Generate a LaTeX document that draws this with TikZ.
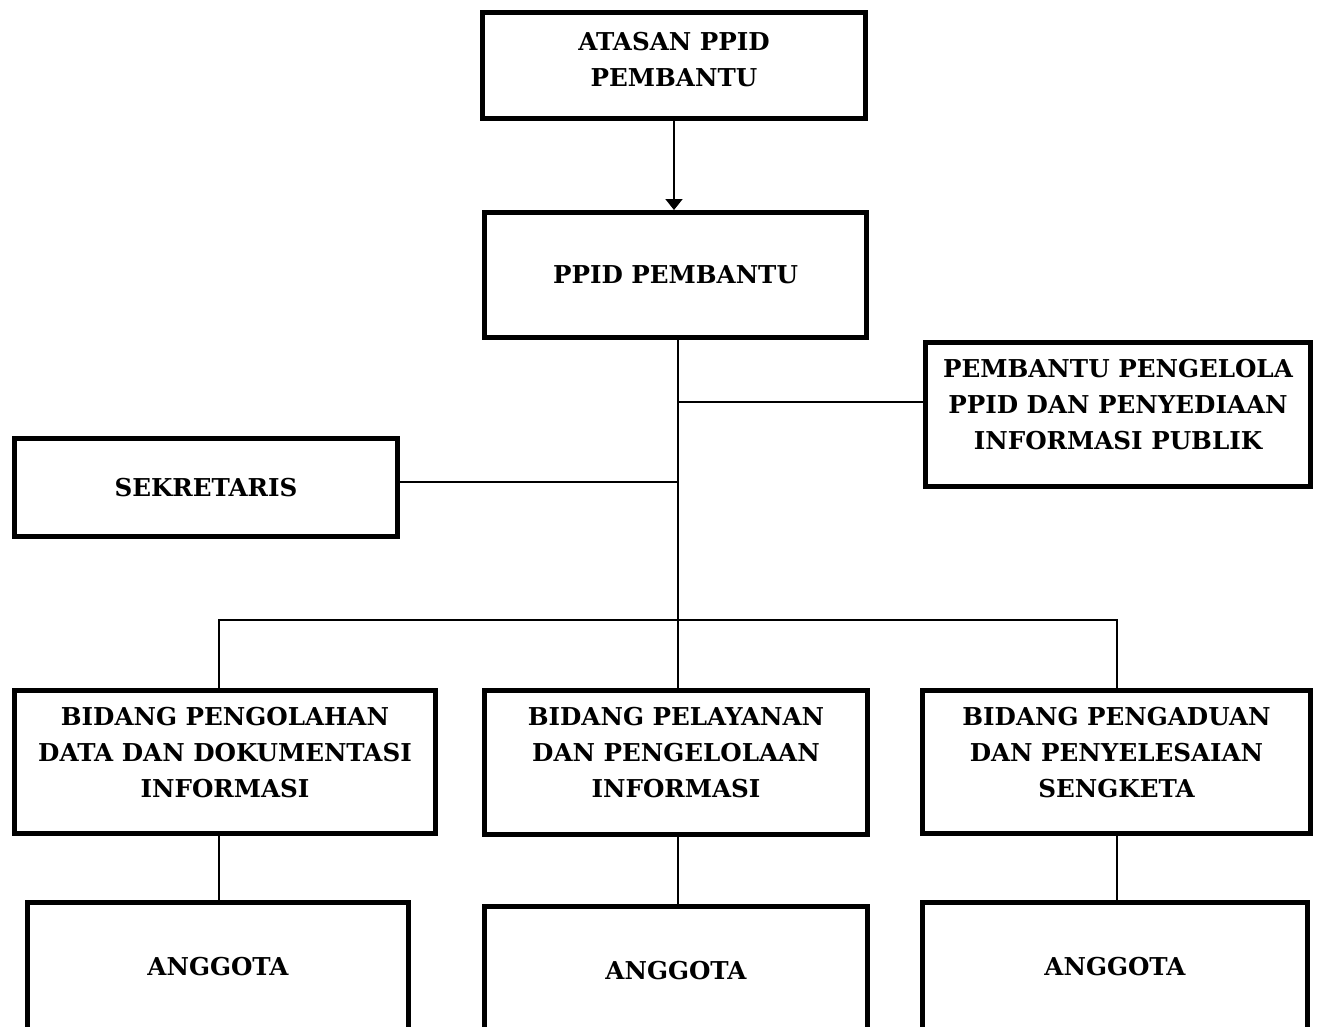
\documentclass[tikz,border=0pt]{standalone}
\usepackage{fontspec}
\setmainfont{DejaVu Serif}
\usetikzlibrary{arrows.meta}

\begin{document}
\begin{tikzpicture}[x=0.02cm, y=-0.02cm,
    box/.style={rectangle, draw=black, line width=0.1cm, align=center,
        inner sep=0pt, font=\fontsize{14}{20.5}\selectfont\bfseries},
    link/.style={draw=black, line width=0.035cm}]

\useasboundingbox (0,0) rectangle (1318,1027);
\clip (0,0) rectangle (1318,1027);

% Atasan
\node[box, minimum width=7.66cm, minimum height=2.12cm, text depth=7pt]
    (atasan) at (674,65.5) {ATASAN PPID\\PEMBANTU};

% PPID
\node[box, minimum width=7.64cm, minimum height=2.5cm]
    (ppid) at (675.5,275) {PPID PEMBANTU};

% Side boxes
\node[box, minimum width=7.7cm, minimum height=2.88cm, text depth=11pt]
    (pengelola) at (1118,414.5) {PEMBANTU PENGELOLA\\PPID DAN PENYEDIAAN\\INFORMASI PUBLIK};
\node[box, minimum width=7.66cm, minimum height=1.96cm]
    (sekretaris) at (206,487.5) {SEKRETARIS};

% Bidang
\node[box, minimum width=8.42cm, minimum height=2.86cm, text depth=11pt]
    (bidang-1) at (225,762) {BIDANG PENGOLAHAN\\DATA DAN DOKUMENTASI\\INFORMASI};
\node[box, minimum width=7.66cm, minimum height=2.88cm, text depth=11pt]
    (bidang-2) at (676,762.5) {BIDANG PELAYANAN\\DAN PENGELOLAAN\\INFORMASI};
\node[box, minimum width=7.76cm, minimum height=2.86cm, text depth=11pt]
    (bidang-3) at (1116.5,762) {BIDANG PENGADUAN\\DAN PENYELESAIAN\\SENGKETA};

% Anggota
\foreach \i/\x/\y/\w in {1/218/967/7.62, 2/676/971/7.66, 3/1115/967/7.7}
{
    \node[box, minimum width=\w cm, minimum height=2.6cm]
        (anggota-\i) at (\x,\y) {ANGGOTA};
}

% Junctions
\coordinate (bus) at (678,620);
\coordinate (bus-1) at (219,620);
\coordinate (bus-3) at (1117,620);
\coordinate (tap-r) at (678,402);
\coordinate (tap-l) at (678,482);

% Atasan - PPID
\draw[link, -{Triangle[length=0.22cm, width=0.34cm]}]
    (atasan.south) -- (atasan.south |- ppid.north);

% PPID - bidang
\draw[link] (bus |- ppid.south) -- (bus);
\draw[link] (tap-r) -- (tap-r -| pengelola.west);
\draw[link] (tap-l) -- (tap-l -| sekretaris.east);
\draw[link] (bus-1 |- bidang-1.north) -- (bus-1) -- (bus-3) -- (bus-3 |- bidang-3.north);
\draw[link] (bus) -- (bus |- bidang-2.north);

% Bidang - anggota
\foreach \i/\c in {1/bus-1, 2/bus, 3/bus-3}
{
    \draw[link] (\c |- bidang-\i.south) -- (\c |- anggota-\i.north);
}

\end{tikzpicture}
\end{document}
